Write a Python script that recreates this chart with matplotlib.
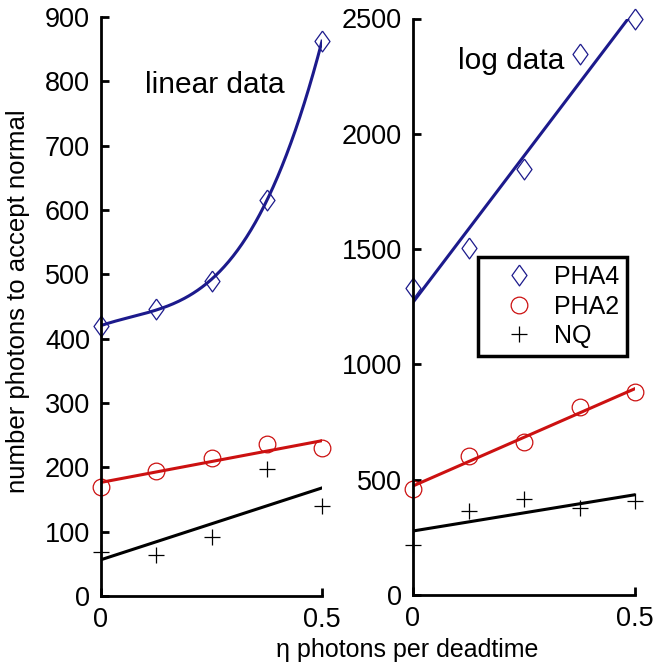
import numpy as np
import matplotlib.pyplot as plt

plt.rcParams['font.family'] = ['Liberation Sans', 'DejaVu Sans']

eta = [0, 0.125, 0.25, 0.375, 0.5]

# linear data
lin_pha4 = [420, 446, 490, 616, 862]
lin_pha2 = [170, 194, 215, 236, 230]
lin_nq = [68, 63, 92, 198, 140]

# log data
log_pha4 = [1330, 1503, 1846, 2344, 2496]
log_pha2 = [459, 602, 663, 815, 880]
log_nq = [217, 364, 416, 377, 407]

blue = '#1c1a8c'
red = '#cc1111'
diamond = [(0, 1), (0.72, 0), (0, -1), (-0.72, 0), (0, 1)]

W, H = 672, 666
fig = plt.figure(figsize=(W / 100, H / 100), dpi=100)
ax1 = fig.add_axes([101 / W, 1 - 596 / H, 221 / W, 579 / H])
ax2 = fig.add_axes([413 / W, 1 - 595 / H, 222 / W, 576.5 / H])


def draw(ax, pha4, pha2, nq, deg4):
    x = np.array(eta)
    xf = np.linspace(0, 0.5, 200)
    ax.plot(xf, np.polyval(np.polyfit(x, pha4, deg4), xf), color=blue, lw=2.2)
    ax.plot(xf, np.polyval(np.polyfit(x, pha2, 1), xf), color=red, lw=2.2)
    ax.plot(xf, np.polyval(np.polyfit(x, nq, 1), xf), color='black', lw=2.2)
    h1, = ax.plot(x, pha4, ls='none', marker=diamond, ms=15, mfc='none',
                  mec=blue, mew=0.9, clip_on=False, label='PHA4')
    h2, = ax.plot(x, pha2, ls='none', marker='o', ms=12, mfc='none',
                  mec=red, mew=0.9, clip_on=False, label='PHA2')
    h3, = ax.plot(x, nq, ls='none', marker='+', ms=11, color='black',
                  mew=0.9, clip_on=False, label='NQ')
    for s in ['top', 'right']:
        ax.spines[s].set_visible(False)
    for s in ['left', 'bottom']:
        ax.spines[s].set_linewidth(2)
    ax.tick_params(direction='in', length=6, width=2, labelsize=19.5, pad=8)
    ax.set_xlim(0, 0.5)
    ax.set_xticks([0, 0.5])
    ax.set_xticklabels(['0', '0.5'])
    return [h1, h2, h3]


draw(ax1, lin_pha4, lin_pha2, lin_nq, 3)
ax1.set_ylim(0, 900)
ax1.set_yticks(range(0, 901, 100))
ax1.text(0.1, 782, 'linear data', fontsize=21.5, va='baseline', ha='left')

handles = draw(ax2, log_pha4, log_pha2, log_nq, 1)
ax2.set_ylim(0, 2500)
ax2.set_yticks(range(0, 2501, 500))
ax2.text(0.101, 2283, 'log data', fontsize=21.5, va='baseline', ha='left')

leg = ax2.legend(handles=handles, loc='upper left', bbox_to_anchor=(0.293, 0.586),
                 borderaxespad=0, fontsize=18, fancybox=False, framealpha=1,
                 edgecolor='black', handlelength=2.6, handletextpad=0.1,
                 labelspacing=0.22, borderpad=0.32)
leg.get_frame().set_linewidth(2.5)

fig.text(18 / W, 1 - 301 / H, 'number photons to accept normal', rotation=90,
         fontsize=18.5, ha='center', va='center')
fig.text(407 / W, 1 - 650 / H, 'η photons per deadtime', fontsize=18,
         ha='center', va='center')

fig.savefig('out.png', dpi=100)
